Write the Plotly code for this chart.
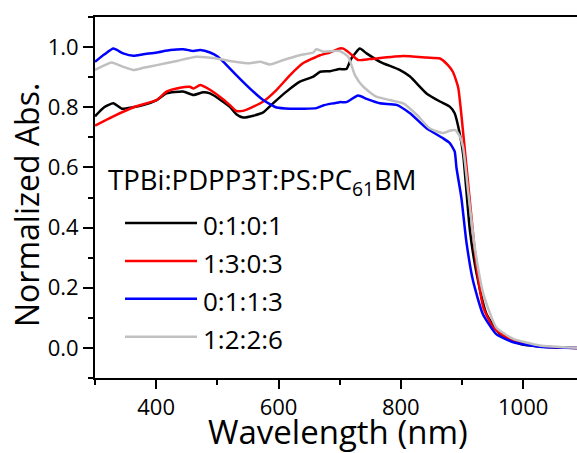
import plotly.graph_objects as go

# ---- data ----
wl_black = [300, 315, 330, 344, 362, 380, 401, 417, 444, 461, 477, 488, 504, 520, 531, 542, 559, 575, 591, 613, 635, 657, 668, 684, 700, 711, 719, 733, 744, 766, 798, 815, 842, 864, 880, 888, 896, 902, 913, 924, 940, 962, 994, 1048, 1090]
abs_black = [0.77, 0.80, 0.813, 0.795, 0.80, 0.808, 0.824, 0.846, 0.852, 0.841, 0.85, 0.846, 0.826, 0.802, 0.777, 0.766, 0.772, 0.783, 0.813, 0.852, 0.885, 0.902, 0.918, 0.92, 0.927, 0.927, 0.962, 0.995, 0.979, 0.951, 0.924, 0.902, 0.846, 0.819, 0.802, 0.78, 0.715, 0.642, 0.388, 0.246, 0.113, 0.047, 0.014, 0.002, 0.0]

wl_red = [300, 330, 363, 401, 417, 439, 455, 461, 472, 488, 504, 520, 531, 542, 559, 575, 597, 619, 640, 668, 684, 700, 706, 717, 730, 749, 804, 842, 864, 877, 885, 891, 894, 899, 907, 915, 924, 935, 951, 973, 1011, 1050, 1090]
abs_red = [0.739, 0.77, 0.80, 0.824, 0.852, 0.865, 0.868, 0.862, 0.874, 0.858, 0.835, 0.808, 0.788, 0.788, 0.802, 0.819, 0.858, 0.907, 0.946, 0.973, 0.982, 0.995, 0.995, 0.979, 0.957, 0.96, 0.97, 0.965, 0.962, 0.94, 0.918, 0.885, 0.863, 0.775, 0.609, 0.444, 0.267, 0.134, 0.068, 0.035, 0.011, 0.002, 0.0]

wl_blue = [300, 315, 330, 346, 363, 379, 401, 423, 444, 461, 472, 488, 501, 510, 531, 553, 575, 597, 619, 640, 662, 673, 700, 711, 730, 744, 766, 793, 815, 842, 869, 880, 888, 891, 899, 907, 918, 934, 956, 984, 1027, 1090]
abs_blue = [0.951, 0.975, 0.995, 0.979, 0.971, 0.976, 0.982, 0.99, 0.993, 0.987, 0.99, 0.982, 0.968, 0.951, 0.907, 0.863, 0.824, 0.799, 0.795, 0.795, 0.797, 0.806, 0.817, 0.817, 0.839, 0.828, 0.813, 0.808, 0.78, 0.73, 0.697, 0.681, 0.653, 0.598, 0.499, 0.355, 0.223, 0.113, 0.046, 0.019, 0.004, 0.0]

wl_gray = [300, 327, 345, 363, 379, 401, 434, 466, 499, 520, 553, 570, 586, 608, 635, 657, 662, 673, 700, 714, 725, 738, 760, 782, 804, 826, 847, 869, 880, 889, 896, 902, 910, 921, 935, 956, 984, 1027, 1090]
abs_gray = [0.924, 0.949, 0.935, 0.924, 0.931, 0.94, 0.954, 0.968, 0.962, 0.954, 0.946, 0.951, 0.942, 0.957, 0.973, 0.982, 0.993, 0.985, 0.987, 0.968, 0.907, 0.869, 0.835, 0.824, 0.813, 0.775, 0.73, 0.714, 0.722, 0.724, 0.705, 0.664, 0.52, 0.333, 0.179, 0.068, 0.03, 0.008, 0.0]

series_names = ["0:1:0:1", "1:3:0:3", "0:1:1:3", "1:2:2:6"]
series_colors = ["#000000", "#ff0000", "#0000ff", "#c0c0c0"]
series_x = [wl_black, wl_red, wl_blue, wl_gray]
series_y = [abs_black, abs_red, abs_blue, abs_gray]
legend_title = "TPBi:PDPP3T:PS:PC<sub>61</sub>BM"
x_title = "Wavelength (nm)"
y_title = "Normalized Abs."

x_ticks = [400, 600, 800, 1000]
y_ticks = [0.0, 0.2, 0.4, 0.6, 0.8, 1.0]

FONT = "Open Sans"
W, H = 577, 453
ML, MR, MT, MB = 95, 0, 17, 75

fig = go.Figure()
for name, color, xs, ys in zip(series_names, series_colors, series_x, series_y):
    fig.add_trace(go.Scatter(x=xs, y=ys, mode="lines", name=name,
                             line=dict(color=color, width=2.5, shape="spline", smoothing=0.5),
                             showlegend=False))

def px2paper(px, py):
    return (px - ML) / (W - ML - MR), (H - MB - py) / (H - MT - MB)

shapes = []
annotations = []
# legend title
tx, ty = px2paper(106, 181)
annotations.append(dict(x=tx, y=ty, xref="paper", yref="paper", text=legend_title,
                        showarrow=False, xanchor="left", yanchor="middle",
                        font=dict(family=FONT, size=27.5, color="black")))
for i, (name, color) in enumerate(zip(series_names, series_colors)):
    ly = 223 + i * 37.9
    x0, y0 = px2paper(125, ly)
    x1, _ = px2paper(197, ly)
    shapes.append(dict(type="line", xref="paper", yref="paper", x0=x0, x1=x1, y0=y0, y1=y0,
                       line=dict(color=color, width=2.5)))
    ax, ay = px2paper(201, ly + 2)
    annotations.append(dict(x=ax, y=ay, xref="paper", yref="paper", text=name,
                            showarrow=False, xanchor="left", yanchor="middle",
                            font=dict(family=FONT, size=26, color="black")))

# axis titles
xtx, xty = px2paper(338, 432)
annotations.append(dict(x=xtx, y=xty, xref="paper", yref="paper", text=x_title, showarrow=False,
                        xanchor="center", yanchor="middle",
                        font=dict(family=FONT, size=33, color="black")))
ytx, yty = px2paper(26, 205)
annotations.append(dict(x=ytx, y=yty, xref="paper", yref="paper", text=y_title, showarrow=False,
                        xanchor="center", yanchor="middle", textangle=-90,
                        font=dict(family=FONT, size=32, color="black")))

fig.update_layout(
    width=W, height=H,
    margin=dict(l=ML, r=MR, t=MT, b=MB, pad=0),
    paper_bgcolor="white", plot_bgcolor="white",
    font=dict(family=FONT, color="black"),
    shapes=shapes, annotations=annotations,
    xaxis=dict(range=[300, 1088], tickvals=x_ticks, ticks="outside", ticklen=9, tickwidth=2,
               minor=dict(dtick=100, tick0=300, ticks="outside", ticklen=5, tickwidth=2, tickcolor="black"),
               tickcolor="black", showline=True, linewidth=2, linecolor="black", mirror=True,
               showgrid=False, zeroline=False,
               tickfont=dict(family=FONT, size=22, color="black")),
    yaxis=dict(range=[-0.1, 1.1], tickvals=y_ticks, tickformat=".1f", ticks="outside", ticklen=10, tickwidth=2,
               minor=dict(dtick=0.1, tick0=-0.1, ticks="outside", ticklen=5, tickwidth=2, tickcolor="black"),
               tickcolor="black", showline=True, linewidth=2, linecolor="black",
               showgrid=False, zeroline=False,
               tickfont=dict(family=FONT, size=22, color="black")),
)

fig.write_html("out.html")
